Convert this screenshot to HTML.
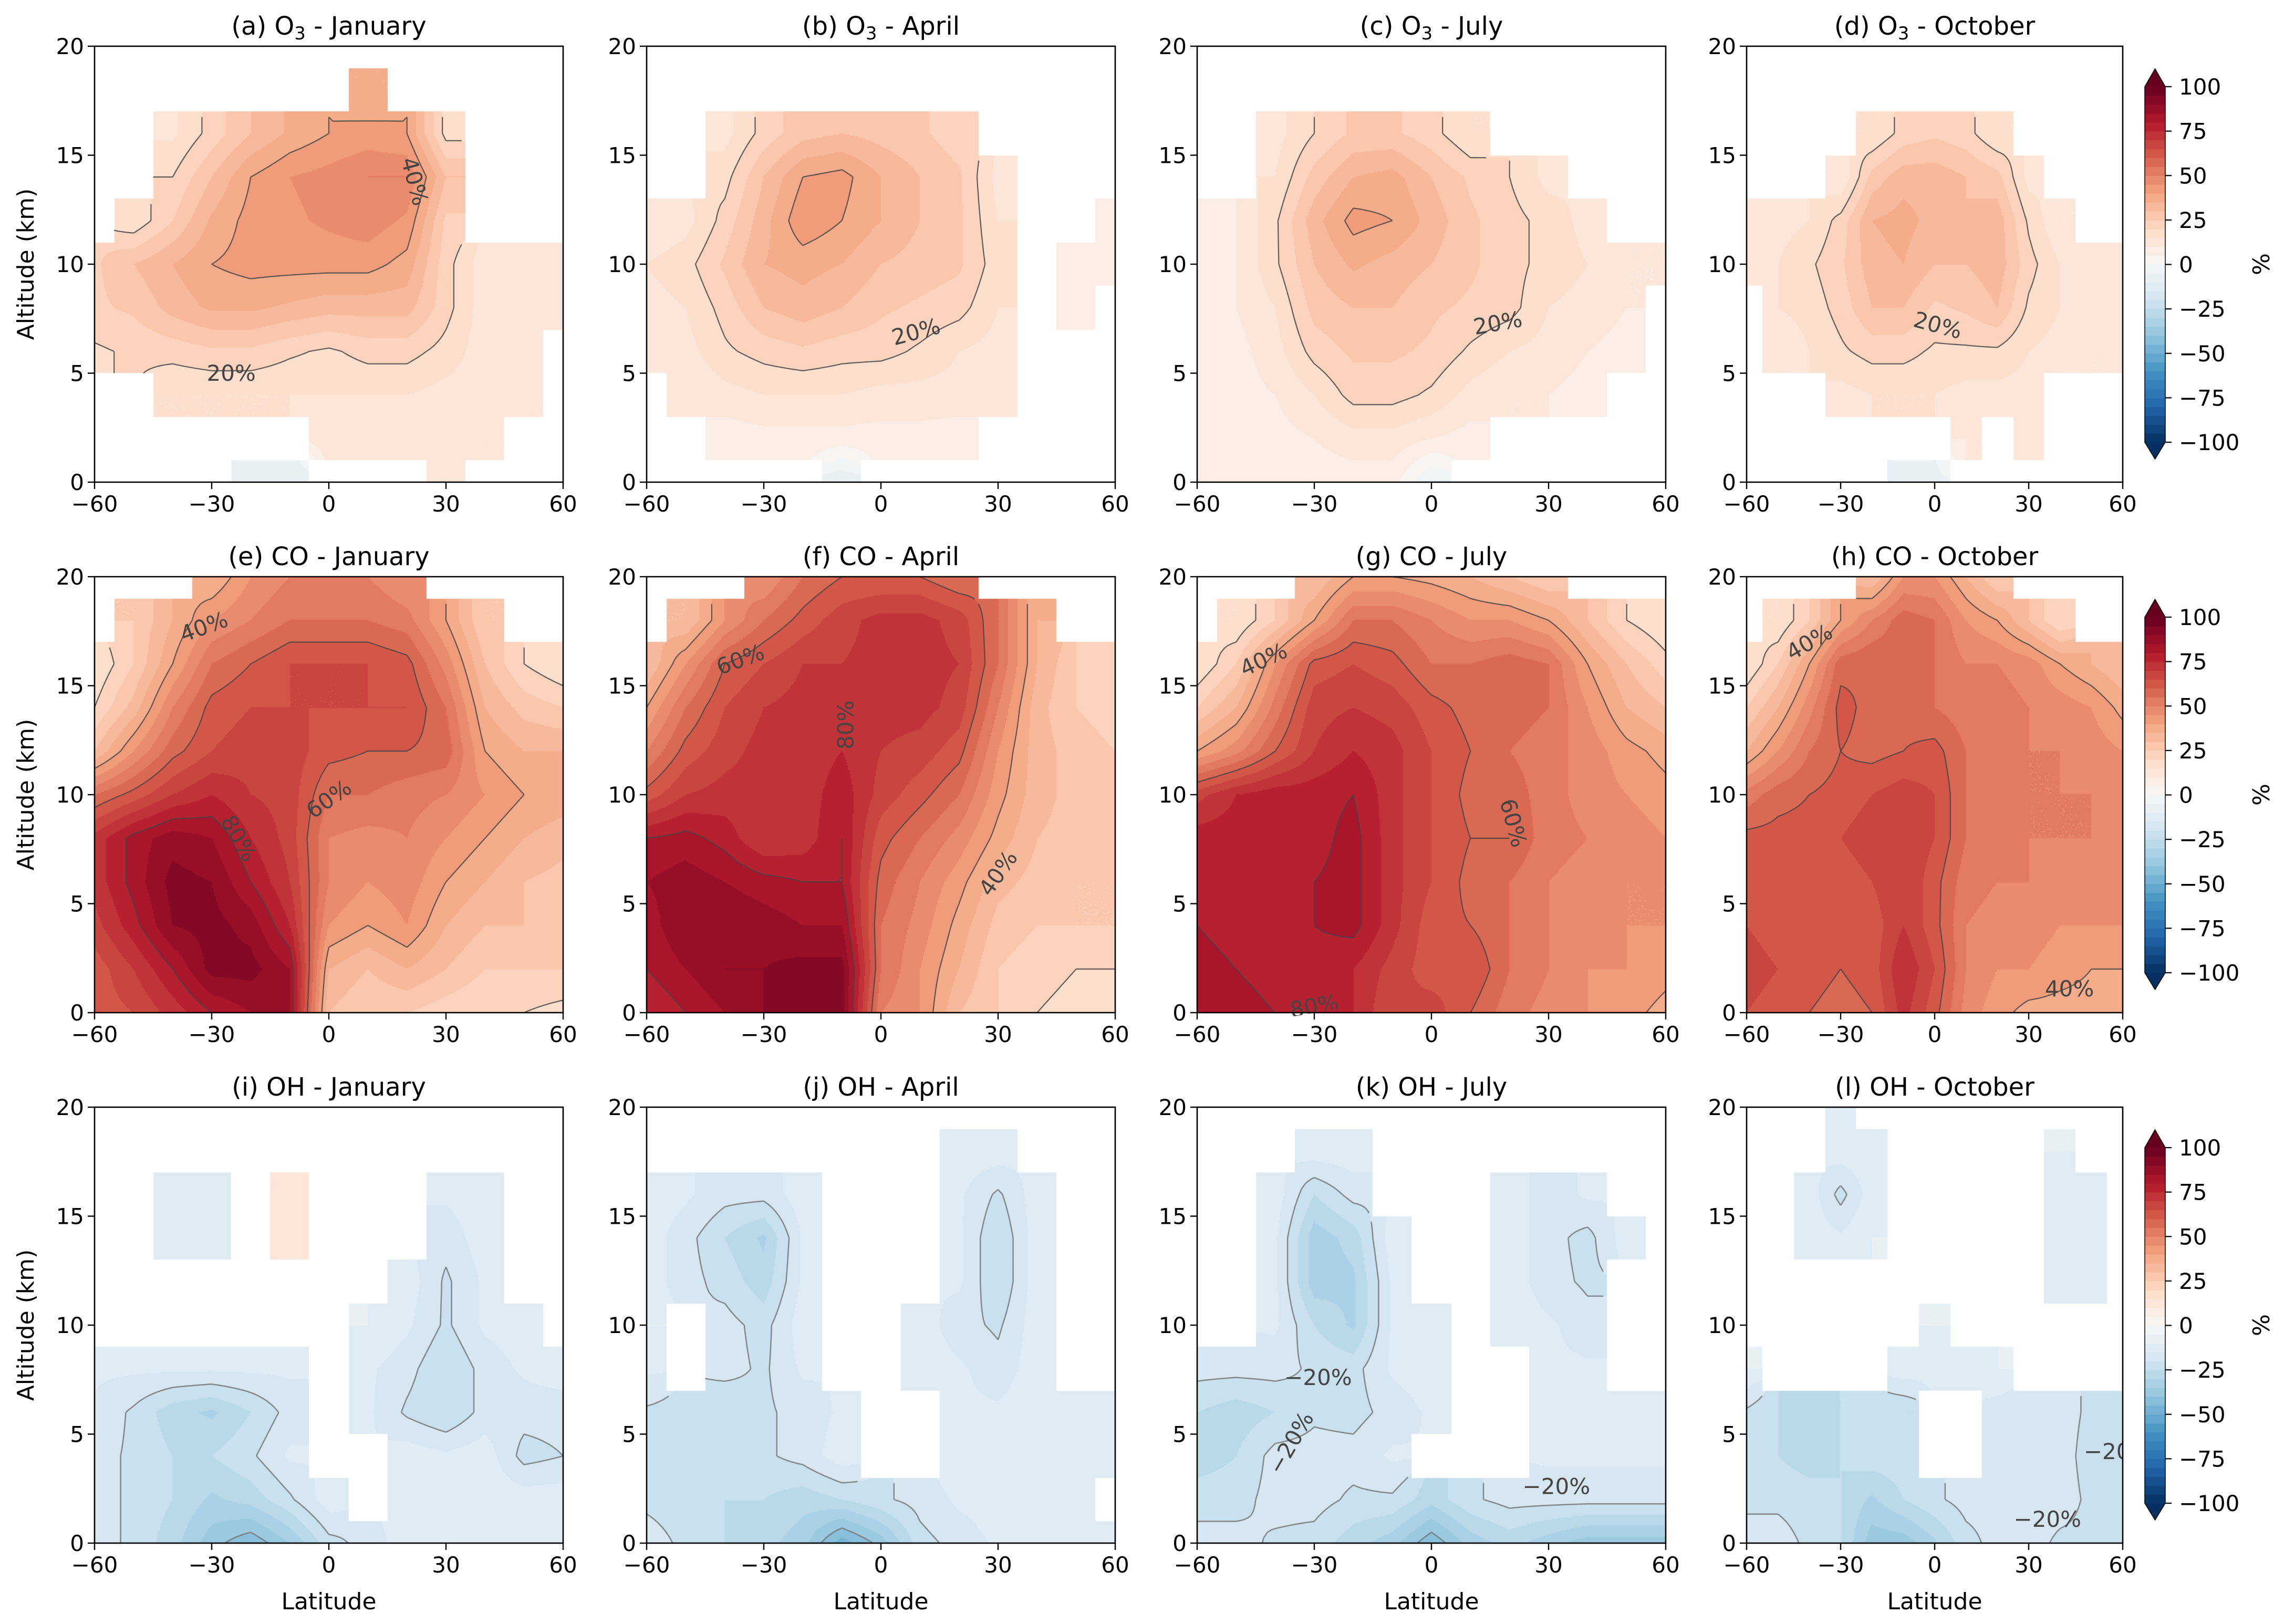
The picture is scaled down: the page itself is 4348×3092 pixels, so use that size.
<!DOCTYPE html>
<html><head><meta charset="utf-8">
<style>
html,body{margin:0;padding:0;background:#fff;}
#root{position:relative;width:4348px;height:3092px;overflow:hidden;background:#fff;font-family:"DejaVu Sans","Liberation Sans",sans-serif;}
canvas{position:absolute;}
svg{position:absolute;left:0;top:0;}
</style></head>
<body>
<div id="root">
<svg id="ov" width="4348" height="3092"></svg>
</div>
<script>
// ---- data (rows: altitude 20,18,...,0 km; columns: latitude -60..60 step 10) ----
const N = null;
const latNodes = [-60,-50,-40,-30,-20,-10,0,10,20,30,40,50,60];
const altNodes = [20,18,16,14,12,10,8,6,4,2,0];
const titles = [
 ["(a) O","3"," - January"],["(b) O","3"," - April"],["(c) O","3"," - July"],["(d) O","3"," - October"],
 ["(e) CO",""," - January"],["(f) CO",""," - April"],["(g) CO",""," - July"],["(h) CO",""," - October"],
 ["(i) OH",""," - January"],["(j) OH",""," - April"],["(k) OH",""," - July"],["(l) OH",""," - October"]];
const o3Jan = [
[N,N,N,N,N,N,N,N,N,N,N,N,N],
[N,N,N,N,N,N,N,35,N,N,N,N,N],
[N,N,14,22,30,36,40,42,40,18,N,N,N],
[N,N,20,30,40,45,47,50,50,30,N,N,N],
[N,16,25,36,42,44,46,48,44,24,N,N,N],
[24,30,35,40,42,42,42,42,38,22,12,12,10],
[24,26,32,36,36,34,32,32,32,22,12,12,10],
[19,21,22,24,24,21,19,22,22,18,12,12,N],
[N,N,15,15,15,15,15,15,15,13,12,10,N],
[N,N,N,N,N,N,12,12,12,12,10,N,N],
[N,N,N,N,-6,-10,N,N,N,10,N,N,N]];
const o3Apr = [
[N,N,N,N,N,N,N,N,N,N,N,N,N],
[N,N,N,N,N,N,N,N,N,N,N,N,N],
[N,N,13,22,28,30,28,26,22,N,N,N,N],
[N,N,18,30,40,42,35,30,26,13,N,N,N],
[10,13,22,33,44,40,35,30,26,15,N,N,8],
[15,18,26,35,37,35,30,28,26,17,N,8,8],
[13,15,22,30,33,30,26,24,22,15,N,8,N],
[10,13,19,22,24,22,22,19,15,13,N,N,N],
[N,10,13,15,15,15,13,13,13,10,N,N,N],
[N,N,7,8,8,8,8,8,7,N,N,N,N],
[N,N,N,N,N,-10,N,N,N,N,N,N,N]];
const o3Jul = [
[N,N,N,N,N,N,N,N,N,N,N,N,N],
[N,N,N,N,N,N,N,N,N,N,N,N,N],
[N,N,13,20,26,26,22,15,N,N,N,N,N],
[N,N,15,27,35,37,30,24,20,13,N,N,N],
[7,10,19,33,42,40,33,26,22,18,13,N,N],
[7,10,19,30,36,33,30,26,22,18,15,10,10],
[7,10,15,27,30,30,26,24,22,15,13,10,N],
[7,8,13,22,26,26,24,19,15,13,10,8,N],
[7,8,10,15,22,22,19,13,10,10,8,N,N],
[7,7,8,10,13,13,10,8,N,N,N,N,N],
[7,7,7,7,7,7,-6,N,N,N,N,N,N]];
const o3Oct = [
[N,N,N,N,N,N,N,N,N,N,N,N,N],
[N,N,N,N,N,N,N,N,N,N,N,N,N],
[N,N,N,N,15,22,24,22,15,N,N,N,N],
[N,N,N,10,27,33,33,30,27,13,N,N,N],
[10,13,15,22,35,37,33,30,33,19,10,N,N],
[13,15,19,24,33,35,30,30,33,22,15,13,13],
[N,15,17,22,30,30,24,26,30,19,15,13,13],
[N,10,15,19,22,22,19,19,19,15,13,10,10],
[N,N,N,13,15,15,15,13,13,13,N,N,N],
[N,N,N,N,N,N,N,10,N,10,N,N,N],
[N,N,N,N,N,-6,-6,N,N,N,N,N,N]];
const coJan = [
[N,N,N,35,45,50,50,50,45,N,N,N,N],
[N,25,35,45,50,55,55,55,52,40,25,N,N],
[15,25,40,55,60,65,65,65,62,48,30,20,15],
[20,32,50,62,65,65,65,65,65,55,35,28,25],
[30,45,58,65,68,68,62,60,60,58,40,35,35],
[55,62,70,75,70,68,55,55,52,50,45,40,38],
[72,82,88,85,75,68,50,48,50,45,40,35,32],
[72,82,92,90,80,70,50,45,48,40,35,30,28],
[68,78,90,92,88,75,45,40,45,35,30,30,28],
[62,70,80,92,92,85,35,30,35,30,25,25,25],
[62,65,72,80,85,85,30,25,25,22,20,20,18]];
const coApr = [
[N,N,N,45,55,60,60,60,55,N,N,N,N],
[N,30,45,55,62,68,72,72,68,55,35,N,N],
[30,45,60,65,70,70,72,72,70,55,35,25,20],
[40,55,65,70,72,70,72,72,68,50,32,25,22],
[50,62,68,72,72,75,70,68,62,45,32,28,25],
[62,70,72,72,72,78,68,62,55,42,32,28,25],
[80,82,78,70,72,80,62,55,48,38,30,28,25],
[85,88,85,82,80,80,58,50,42,32,28,25,25],
[82,90,90,88,85,85,55,48,38,28,25,25,25],
[80,85,90,90,92,92,55,45,35,25,22,20,20],
[75,80,85,90,92,92,50,45,30,25,20,18,18]];
const coJul = [
[N,N,N,30,40,40,38,35,30,25,N,N,N],
[N,15,25,40,55,55,50,45,45,40,30,20,15],
[15,25,45,62,65,62,55,55,58,55,40,30,22],
[25,35,52,68,70,68,62,58,58,55,45,35,30],
[40,48,60,70,75,72,65,60,55,52,48,42,38],
[68,75,78,78,80,72,65,58,58,52,48,45,42],
[78,78,78,78,82,72,65,60,60,52,50,48,45],
[78,78,78,80,82,72,65,58,55,50,48,45,45],
[80,78,78,80,82,72,62,60,55,50,48,45,45],
[82,80,78,78,75,68,62,65,55,50,45,45,42],
[85,82,80,78,75,65,68,60,52,48,45,42,38]];
const coOct = [
[N,N,N,N,30,45,45,35,25,N,N,N,N],
[N,15,25,40,50,58,55,45,40,30,20,N,N],
[15,25,40,58,60,58,55,50,50,48,40,35,30],
[25,35,48,62,58,58,55,52,52,50,48,45,38],
[35,45,55,60,58,60,62,55,52,50,50,48,45],
[52,58,60,62,65,68,65,55,52,50,50,50,48],
[62,62,62,65,68,70,65,55,52,50,50,50,48],
[62,62,62,62,65,70,62,52,50,50,48,48,45],
[65,62,60,60,62,70,62,50,48,48,45,45,45],
[68,65,62,60,62,75,65,50,45,45,42,40,40],
[65,62,60,58,60,72,62,48,42,38,38,38,38]];
const ohJan = [
[N,N,N,N,N,N,N,N,N,N,N,N,N],
[N,N,N,N,N,N,N,N,N,N,N,N,N],
[N,N,-14,-12,N,10,N,N,N,-14,-12,N,N],
[N,N,-14,-12,N,12,N,N,N,-18,-12,N,N],
[N,N,N,N,N,N,N,N,-12,-21,-14,N,N],
[N,N,N,N,N,N,N,-10,-14,-21,-14,-12,N],
[-14,-14,-14,-14,-14,-14,N,-14,-18,-25,-18,-14,-12],
[-16,-21,-28,-31,-25,-18,N,-14,-21,-25,-18,-18,-18],
[-18,-21,-25,-25,-21,-14,N,N,-12,-14,-12,-22,-20],
[-18,-21,-25,-31,-28,-21,-12,N,-12,-12,-12,-12,-12],
[-18,-21,-28,-38,-44,-35,-22,-18,-12,-10,-10,-10,-10]];
const ohApr = [
[N,N,N,N,N,N,N,N,N,N,N,N,N],
[N,N,N,N,N,N,N,N,-12,-12,N,N,N],
[-12,-14,-18,-18,-12,N,N,N,-14,-21,-12,N,N],
[-12,-18,-25,-31,-14,N,N,N,-14,-25,-12,N,N],
[-12,-18,-22,-28,-14,N,N,N,-14,-25,-12,N,N],
[-10,N,-18,-22,-12,N,N,-12,-18,-21,-12,N,N],
[-14,N,-18,-21,-14,N,N,-12,-14,-18,-12,N,N],
[-21,-22,-25,-21,-18,-14,N,N,-14,-14,-12,-12,-12],
[-25,-25,-22,-21,-18,-12,N,N,-12,-12,-12,-12,-12],
[-21,-22,-25,-25,-28,-25,-21,-18,-14,-12,-12,-12,N],
[-18,-21,-25,-28,-33,-48,-38,-22,-18,-14,-12,-12,-12]];
const ohJul = [
[N,N,N,N,N,N,N,N,N,N,N,N,N],
[N,N,N,-12,-12,N,N,N,N,N,N,N,N],
[N,N,-12,-25,-18,N,N,N,-12,-18,-14,N,N],
[N,N,-14,-33,-28,-12,N,N,-12,-18,-22,-12,N],
[N,N,-14,-33,-31,-14,N,N,-12,-18,-21,N,N],
[N,N,-14,-25,-31,-14,-12,N,-12,-14,-18,N,N],
[-18,-18,-18,-21,-22,-14,-12,N,N,-14,-14,N,N],
[-25,-28,-25,-21,-22,-18,-14,N,N,-14,-14,-14,-14],
[-28,-25,-18,-18,-18,-14,N,N,N,-14,-14,-14,-14],
[-22,-22,-18,-18,-21,-21,-28,-21,-18,-18,-18,-18,-18],
[-18,-18,-21,-22,-28,-33,-44,-33,-28,-33,-38,-38,-38]];
const ohOct = [
[N,N,N,-10,N,N,N,N,N,N,N,N,N],
[N,N,N,-12,-12,N,N,N,N,N,-10,N,N],
[N,N,-12,-22,-12,N,N,N,N,N,-14,-12,N],
[N,N,-12,-14,-10,N,N,N,N,N,-14,-12,N],
[N,N,N,N,N,N,N,N,N,N,-12,-12,N],
[N,N,N,N,N,N,-10,N,N,N,N,N,N],
[-10,N,N,N,N,-12,-14,-12,-10,N,N,N,N],
[-21,-25,-28,-25,-22,-25,N,N,-18,-18,-18,-21,-21],
[-22,-25,-28,-25,-22,-22,N,N,-18,-18,-18,-22,-25],
[-21,-21,-22,-25,-31,-25,-21,-18,-18,-18,-18,-21,-22],
[-18,-18,-21,-25,-38,-38,-31,-22,-18,-18,-21,-21,-21]];
const panelData = [o3Jan,o3Apr,o3Jul,o3Oct,coJan,coApr,coJul,coOct,ohJan,ohApr,ohJul,ohOct];
// contour label annotations: [lat, alt, text, rotation]
const contourLabels = [
 [[-25,5.0,"20%",0],[22,13.8,"40%",75]],
 [[9,6.9,"20%",-15]],
 [[17,7.3,"20%",-10]],
 [[1,7.2,"20%",15]],
 [[-32,17.7,"40%",-20],[-23,8,"80%",60],[0,9.8,"60%",-35]],
 [[-36,16.2,"60%",-20],[-9,13.2,"80%",-90],[30,6.4,"40%",-55]],
 [[-43,16.2,"40%",-25],[21,8.7,"60%",75],[-30,0.3,"80%",-10]],
 [[-40,17,"40%",-30],[43,1.1,"40%",0]],
 [],
 [],
 [[-29,7.6,"\u221220%",0],[-36,4.6,"\u221220%",-60],[32,2.6,"\u221220%",0]],
 [[36,1.1,"\u221220%",0],[55,4.2,"\u221220",0]]];
const contourLevels = [-40,-20,20,40,60,80];
const cbarTicks = [100,75,50,25,0,-25,-50,-75,-100];
const xTicks = [-60,-30,0,30,60];
const yTicks = [0,5,10,15,20];

// ---- layout ----
const colLeft = [180,1231,2279,3325], colW = [892,892,892,716];
const rowTop = [88,1098,2108], H = 830;
const NS = "http://www.w3.org/2000/svg";
const ov = document.getElementById('ov');
const root = document.getElementById('root');
function el(tag, attrs, parent){const e=document.createElementNS(NS,tag);for(const k in attrs)e.setAttribute(k,attrs[k]);(parent||ov).appendChild(e);return e;}

const stops = ['#053061','#2166ac','#4393c3','#92c5de','#d1e5f0','#f7f7f7','#fddbc7','#f4a582','#d6604d','#b2182b','#67001f'].map(h=>[parseInt(h.slice(1,3),16),parseInt(h.slice(3,5),16),parseInt(h.slice(5,7),16)]);
function cmap(t){t=Math.max(0,Math.min(1,t));const f=t*10,i=Math.min(9,Math.floor(f)),u=f-i;const a=stops[i],b=stops[i+1];return 'rgb('+[0,1,2].map(k=>Math.round(a[k]+(b[k]-a[k])*u)).join(',')+')';}
function binColor(v){let k=Math.floor(v/5);if(k<-20)return cmap(0);if(k>=20)return cmap(1);return cmap((k*5+2.5+100)/200);}

function sample(data, lat, alt){
  const fi=(lat+60)/10, fj=alt/2;
  const ni=Math.round(fi), nj=Math.round(fj);
  const g=(i,j)=>data[10-j][i];
  if(g(Math.max(0,Math.min(12,ni)),Math.max(0,Math.min(10,nj)))===null) return NaN;
  const i0=Math.max(0,Math.min(11,Math.floor(fi))), j0=Math.max(0,Math.min(9,Math.floor(fj)));
  const tx=fi-i0, ty=fj-j0;
  let s=0,w=0;
  [[0,0,(1-tx)*(1-ty)],[1,0,tx*(1-ty)],[0,1,(1-tx)*ty],[1,1,tx*ty]].forEach(c=>{const v=g(i0+c[0],j0+c[1]);if(v!==null&&c[2]>0){s+=v*c[2];w+=c[2];}});
  return w>0?s/w:NaN;
}

for(let p=0;p<12;p++){
  const r=Math.floor(p/4), c=p%4;
  const L=colLeft[c], W=colW[c], T=rowTop[r];
  const data=panelData[p];
  const X=lat=>L+(lat+60)/120*W, Y=alt=>T+(20-alt)/20*H;
  const cv=document.createElement('canvas');
  cv.width=W;cv.height=H;cv.style.left=L+'px';cv.style.top=T+'px';
  
  
  root.insertBefore(cv, ov);
  const ctx=cv.getContext('2d');
  const st=2;
  for(let y=0;y<H;y+=st){for(let x=0;x<W;x+=st){
    const v=sample(data,-60+(x+st/2)/W*120,20-(y+st/2)/H*20);
    if(isNaN(v))continue;ctx.fillStyle=binColor(v);ctx.fillRect(x,y,st,st);}}
  const g=el('g',{});
  
  
  const clipId='clip'+p;
  const cp=el('clipPath',{id:clipId},g);el('rect',{x:L,y:T,width:W,height:H},cp);
  const nx=121, ny=81;
  const F=[];for(let j=0;j<ny;j++){F.push([]);for(let i=0;i<nx;i++)F[j].push(sample(data,-60+i,j*0.25));}
  contourLevels.forEach(lv=>{
    let d='';
    for(let j=0;j<ny-1;j++)for(let i=0;i<nx-1;i++){
      const a=F[j][i],b=F[j][i+1],cc=F[j+1][i+1],dd=F[j+1][i];
      if(isNaN(a)||isNaN(b)||isNaN(cc)||isNaN(dd))continue;
      const pts=[];
      const edge=(v1,v2,x1,y1,x2,y2)=>{if((v1<lv)!==(v2<lv)){const t=(lv-v1)/(v2-v1);pts.push([x1+(x2-x1)*t,y1+(y2-y1)*t]);}};
      const la=-60+i, al=j*0.25;
      edge(a,b,la,al,la+1,al);edge(b,cc,la+1,al,la+1,al+0.25);edge(cc,dd,la+1,al+0.25,la,al+0.25);edge(dd,a,la,al+0.25,la,al);
      for(let k=0;k+1<pts.length;k+=2)d+='M'+X(pts[k][0]).toFixed(1)+' '+Y(pts[k][1]).toFixed(1)+'L'+X(pts[k+1][0]).toFixed(1)+' '+Y(pts[k+1][1]).toFixed(1);
    }
    if(d){const pa=el('path',{d:d,fill:'none',stroke:lv<0?'#777':'#444','stroke-width':lv<0?2.5:2.2,'stroke-opacity':0.85,'clip-path':'url(#'+clipId+')'},g);
      
      }
  });
  contourLabels[p].forEach(cl=>{
    const t=el('text',{x:X(cl[0]),y:Y(cl[1]),'font-size':42,fill:'#444','text-anchor':'middle','dominant-baseline':'central',transform:'rotate('+cl[3]+' '+X(cl[0])+' '+Y(cl[1])+')','clip-path':'url(#'+clipId+')'},g);
    t.textContent=cl[2];
    
    
  });
  const fr=el('rect',{x:L,y:T,width:W,height:H,fill:'none',stroke:'#000','stroke-width':2.6},g);
  
  
  xTicks.forEach(v=>{
    el('line',{x1:X(v),x2:X(v),y1:T+H,y2:T+H+13,stroke:'#000','stroke-width':2.4},g);
    const t=el('text',{x:X(v),y:T+H+56,'font-size':42,'text-anchor':'middle',fill:'#000'},g);
    t.textContent=String(v).replace('-','\u2212');
    
    
  });
  yTicks.forEach(v=>{
    el('line',{x1:L-13,x2:L,y1:Y(v),y2:Y(v),stroke:'#000','stroke-width':2.4},g);
    const t=el('text',{x:L-20,y:Y(v)+15,'font-size':42,'text-anchor':'end',fill:'#000'},g);
    t.textContent=String(v);
    
    
  });
  const tt=el('text',{x:L+W/2,y:T-22,'font-size':48,'text-anchor':'middle',fill:'#000'},g);
  
  
  const s1=el('tspan',{},tt);s1.textContent=titles[p][0];
  if(titles[p][1]){const s2=el('tspan',{'font-size':34,dy:9},tt);s2.textContent=titles[p][1];const s3=el('tspan',{dy:-9},tt);s3.textContent=titles[p][2];}
  else{const s3=el('tspan',{},tt);s3.textContent=titles[p][2];}
  if(c===0){
    const yl=el('text',{x:0,y:0,'font-size':44,'text-anchor':'middle',fill:'#000',transform:'translate(64 '+(T+H/2)+') rotate(-90)'},g);
    yl.textContent='Altitude (km)';
    
    
  }
  if(r===2){
    const xl=el('text',{x:L+W/2,y:3064,'font-size':44,'text-anchor':'middle',fill:'#000'},g);
    xl.textContent='Latitude';
    
    
  }
}

for(let r=0;r<3;r++){
  const T=rowTop[r], cx=4083, cw=39, top=T+77, bot=T+754, ch=bot-top;
  const g=el('g',{});
  
  
  const CY=v=>top+(100-v)/200*ch;
  for(let v=-100;v<100;v+=5){
    el('rect',{x:cx,y:CY(v+5),width:cw,height:ch/40+0.6,fill:binColor(v+0.1)},g);
  }
  el('polygon',{points:cx+','+top+' '+(cx+cw)+','+top+' '+(cx+cw/2)+','+(T+43),fill:cmap(1)},g);
  el('polygon',{points:cx+','+bot+' '+(cx+cw)+','+bot+' '+(cx+cw/2)+','+(T+786),fill:cmap(0)},g);
  el('polygon',{points:cx+','+top+' '+(cx+cw/2)+','+(T+43)+' '+(cx+cw)+','+top+' '+(cx+cw)+','+bot+' '+(cx+cw/2)+','+(T+786)+' '+cx+','+bot,fill:'none',stroke:'#000','stroke-width':1.5},g);
  cbarTicks.forEach(v=>{
    el('line',{x1:cx+cw,x2:cx+cw+12,y1:CY(v),y2:CY(v),stroke:'#000','stroke-width':2.2},g);
    const t=el('text',{x:4148,y:CY(v)+15,'font-size':42,fill:'#000'},g);
    t.textContent=String(v).replace('-','\u2212');
    
    
  });
  const pl=el('text',{x:0,y:0,'font-size':44,'text-anchor':'middle',fill:'#000',transform:'translate(4320 '+(T+H/2)+') rotate(-90)'},g);
  pl.textContent='%';
  
  
}
</script>
</body></html>
